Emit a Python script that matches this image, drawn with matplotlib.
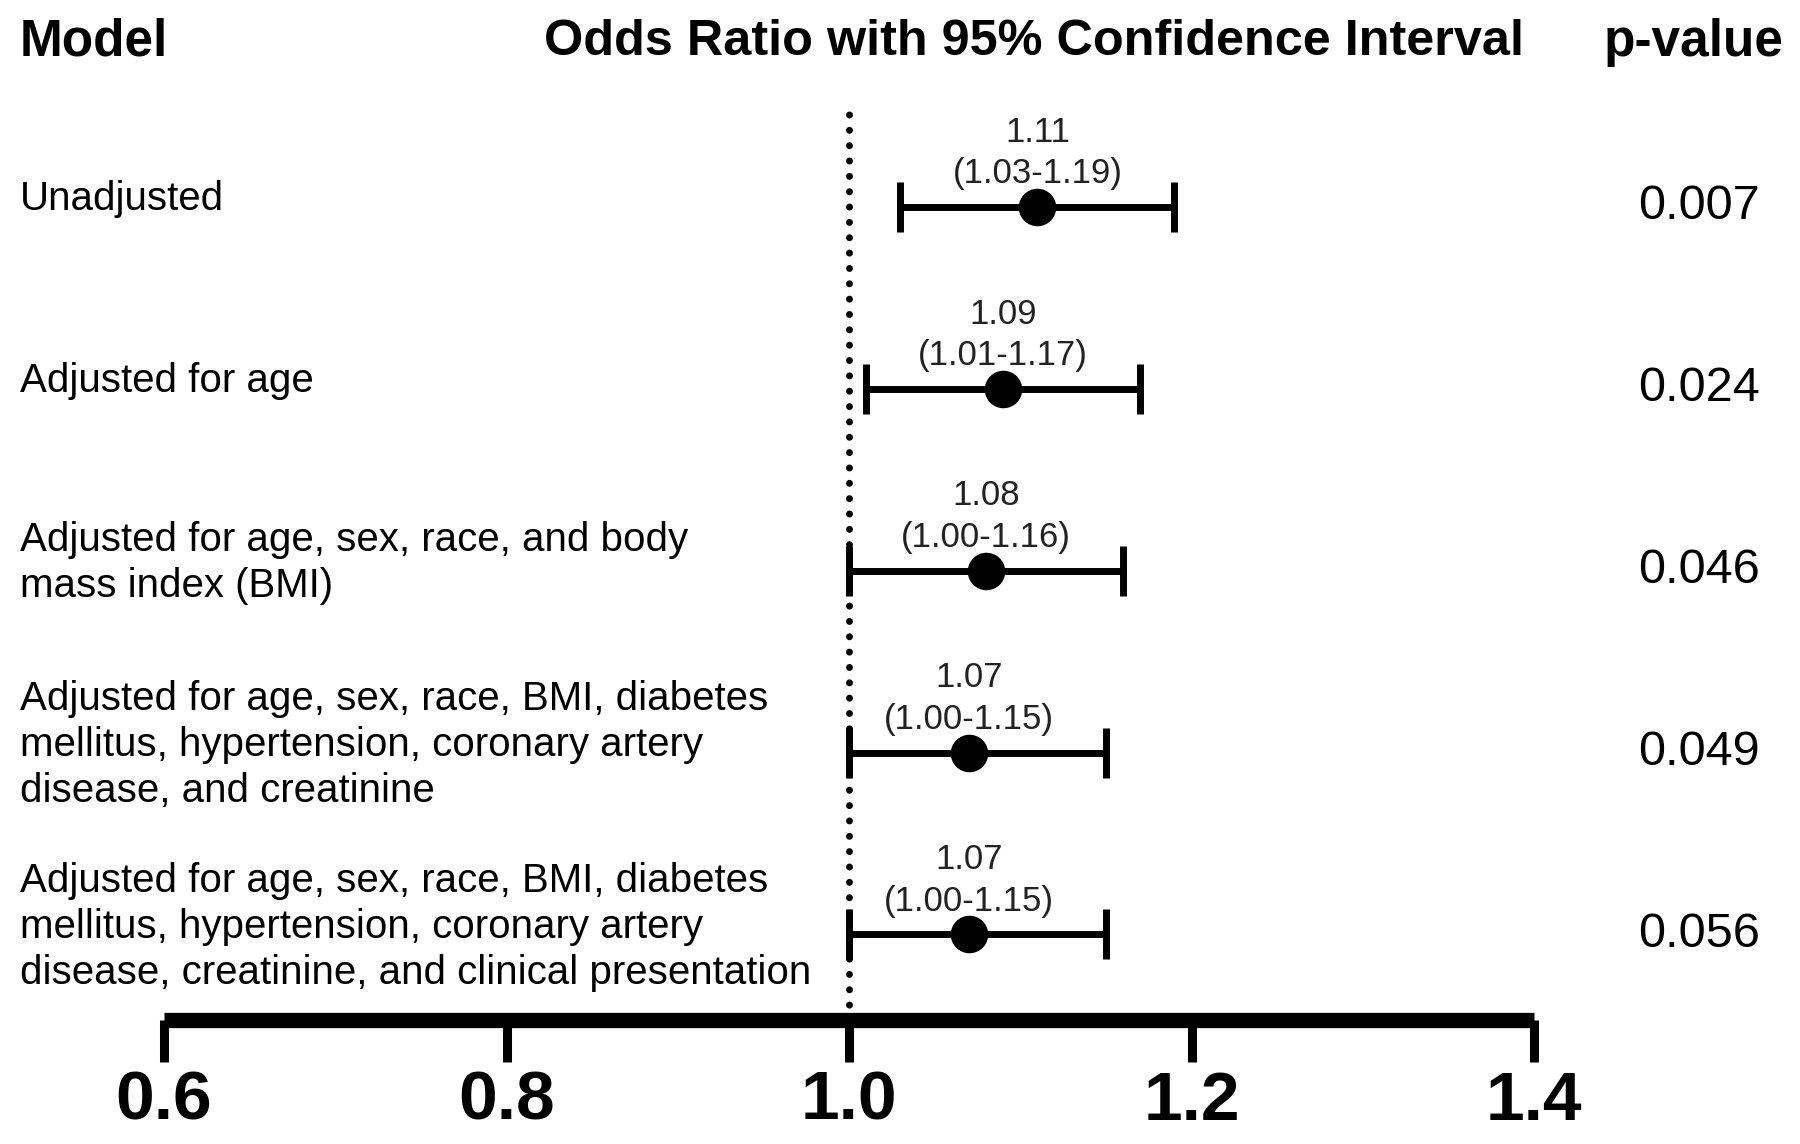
import matplotlib.pyplot as plt
import matplotlib.transforms as mtransforms

models = [
    "Unadjusted",
    "Adjusted for age",
    "Adjusted for age, sex, race, and body\nmass index (BMI)",
    "Adjusted for age, sex, race, BMI, diabetes\nmellitus, hypertension, coronary artery\ndisease, and creatinine",
    "Adjusted for age, sex, race, BMI, diabetes\nmellitus, hypertension, coronary artery\ndisease, creatinine, and clinical presentation",
]
odds = [1.11, 1.09, 1.08, 1.07, 1.07]
lower = [1.03, 1.01, 1.00, 1.00, 1.00]
upper = [1.19, 1.17, 1.16, 1.15, 1.15]
pvalues = ["0.007", "0.024", "0.046", "0.049", "0.056"]
xticks = [0.6, 0.8, 1.0, 1.2, 1.4]

bold_font = ['Liberation Sans', 'DejaVu Sans']
plain_font = ['Liberation Sans', 'DejaVu Sans']

fig = plt.figure(figsize=(18, 11.44), dpi=100)
ax = fig.add_axes([164 / 1800, 0.1084, 1370 / 1800, 0.8])

rows = list(range(len(models)))
xerr = [[o - l for o, l in zip(odds, lower)], [u - o for o, u in zip(odds, upper)]]
ax.errorbar(odds, rows, xerr=xerr, fmt='o', color='black', ms=26,
            elinewidth=5, capsize=18, capthick=5, zorder=3)

# reference line at OR = 1
ax.axvline(1.0, color='black', lw=5, linestyle=(0, (0.01, 2.2)),
           dash_capstyle='round', zorder=1)

ax.set_xlim(0.6, 1.4)
ax.set_ylim(4.47, -0.56)

for s in ['top', 'right', 'left']:
    ax.spines[s].set_visible(False)
ax.spines['bottom'].set_linewidth(11)
ax.spines['bottom'].set_capstyle('butt')
ax.set_yticks([])
ax.set_xticks(xticks)
ax.set_xticklabels([f"{t:.1f}" for t in xticks], fontsize=50,
                   fontweight='bold', family=bold_font)
ax.tick_params(axis='x', length=30, width=6.5, pad=6)

# estimate and CI labels above each point
for r, o, l, u in zip(rows, odds, lower, upper):
    ax.text(o, r - 0.41, f"{o:.2f}", ha='center', va='center',
            fontsize=25, color='#222222', family=plain_font)
    ax.text(o, r - 0.18, f"({l:.2f}-{u:.2f})", ha='center', va='center',
            fontsize=25, color='#222222', family=plain_font)

# model names and p-values
trans = mtransforms.blended_transform_factory(fig.transFigure, ax.transData)
for r, name, p in zip(rows, models, pvalues):
    ax.text(20 / 1800, r - 0.04, name, transform=trans, ha='left', va='center',
            fontsize=29, family=plain_font, linespacing=1.27, clip_on=False)
    ax.text(0.944, r, p, transform=trans, ha='center', va='center',
            fontsize=35, family=plain_font, clip_on=False)

# column headers
fig.text(20 / 1800, 0.963, "Model", ha='left', va='center',
         fontsize=37, fontweight='bold', family=bold_font)
fig.text(0.5744, 0.963, "Odds Ratio with 95% Confidence Interval", ha='center',
         va='center', fontsize=36.3, fontweight='bold', family=bold_font)
fig.text(0.941, 0.963, "p-value", ha='center', va='center',
         fontsize=37, fontweight='bold', family=bold_font)

fig.savefig('out.png', dpi=100)
